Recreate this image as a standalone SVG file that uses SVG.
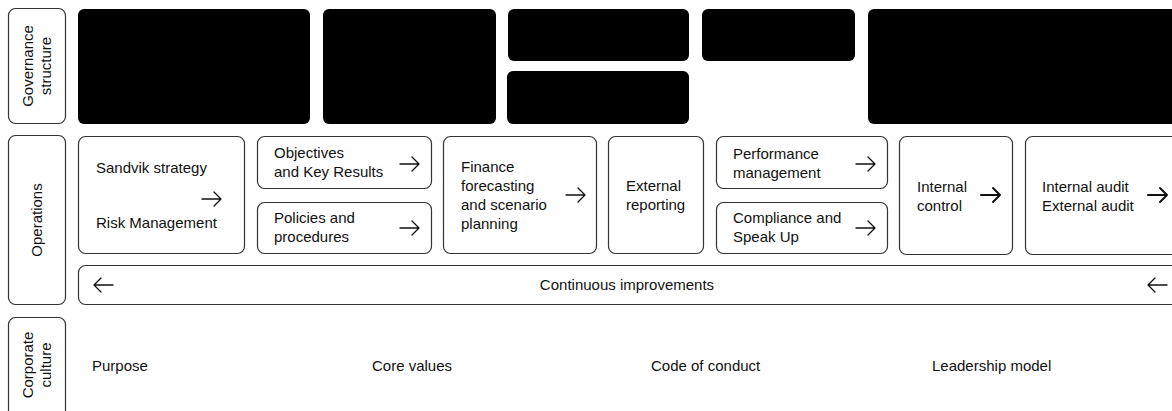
<svg xmlns="http://www.w3.org/2000/svg" width="1172" height="411" viewBox="0 0 1172 411">
<style>
.bg{fill:#ffffff}
.lab{fill:#ffffff;stroke:#333333;stroke-width:1.2}
.box{fill:#ffffff;stroke:#333333;stroke-width:1.2}
.blk{fill:#000000}
text{font-family:"Liberation Sans",Arial,sans-serif;font-size:15px;fill:#111111}
.mid{text-anchor:middle}
.arr{fill:none;stroke:#111111;stroke-width:1.3;stroke-linecap:round;stroke-linejoin:round}
.arrb{fill:none;stroke:#111111;stroke-width:2;stroke-linecap:round;stroke-linejoin:round}
</style>
<rect class="bg" x="0" y="0" width="1172" height="411"/>

<g id="label-governance">
<rect class="lab" x="8.5" y="8.5" width="57" height="115" rx="7"/>
<text class="mid" transform="translate(33 66) rotate(-90)"><tspan x="0" y="0">Governance</tspan><tspan x="0" y="18">structure</tspan></text>
</g>
<g id="label-operations">
<rect class="lab" x="8.5" y="135.5" width="57" height="169" rx="7"/>
<text class="mid" transform="translate(42 220) rotate(-90)">Operations</text>
</g>
<g id="label-culture">
<rect class="lab" x="8.5" y="317.5" width="57" height="110" rx="7"/>
<text class="mid" transform="translate(33 365) rotate(-90)"><tspan x="0" y="0">Corporate</tspan><tspan x="0" y="18">culture</tspan></text>
</g>

<g id="gov-1"><rect class="blk" x="78" y="9" width="232" height="115" rx="6"/></g>
<g id="gov-2"><rect class="blk" x="323" y="9" width="173" height="115" rx="6"/></g>
<g id="gov-3a"><rect class="blk" x="508" y="9" width="181" height="52" rx="6"/></g>
<g id="gov-3b"><rect class="blk" x="507" y="71" width="182" height="53" rx="6"/></g>
<g id="gov-4"><rect class="blk" x="702" y="9" width="153" height="52" rx="6"/></g>
<g id="gov-5"><rect class="blk" x="868" y="9" width="330" height="115" rx="6"/></g>

<g id="op-strategy">
<rect class="box" x="78.5" y="136.5" width="166" height="117" rx="7"/>
<text x="96" y="173">Sandvik strategy</text>
<text x="96" y="228">Risk Management</text>
</g>
<g id="op-okr">
<rect class="box" x="257.5" y="136.5" width="174" height="52" rx="7"/>
<text x="274" y="158">Objectives</text>
<text x="274" y="177">and Key Results</text>
</g>
<g id="op-policies">
<rect class="box" x="257.5" y="202.5" width="174" height="51" rx="7"/>
<text x="274" y="223">Policies and</text>
<text x="274" y="242">procedures</text>
</g>
<g id="op-finance">
<rect class="box" x="443.5" y="136.5" width="153" height="117" rx="7"/>
<text x="461" y="172">Finance</text>
<text x="461" y="191">forecasting</text>
<text x="461" y="210">and scenario</text>
<text x="461" y="229">planning</text>
</g>
<g id="op-external">
<rect class="box" x="608.5" y="136.5" width="95" height="117" rx="7"/>
<text x="626" y="191">External</text>
<text x="626" y="210">reporting</text>
</g>
<g id="op-performance">
<rect class="box" x="716.5" y="136.5" width="171" height="52" rx="7"/>
<text x="733" y="159">Performance</text>
<text x="733" y="178">management</text>
</g>
<g id="op-compliance">
<rect class="box" x="716.5" y="202.5" width="171" height="51" rx="7"/>
<text x="733" y="223">Compliance and</text>
<text x="733" y="242">Speak Up</text>
</g>
<g id="op-internal-control">
<rect class="box" x="899.5" y="136.5" width="113" height="118" rx="7"/>
<text x="917" y="192">Internal</text>
<text x="917" y="211">control</text>
</g>
<g id="op-audit">
<rect class="box" x="1025.5" y="136.5" width="170" height="118" rx="7"/>
<text x="1042" y="192">Internal audit</text>
<text x="1042" y="211">External audit</text>
</g>
<g id="op-continuous">
<rect class="box" x="78.5" y="265.5" width="1120" height="39" rx="7"/>
<text class="mid" x="627" y="290">Continuous improvements</text>
</g>

<g id="connectors">
<path class="arr" d="M202 199H221M214 192L221 199L214 206"/>
<path class="arr" d="M400 164H419M412 157L419 164L412 171"/>
<path class="arr" d="M400 228H419M412 221L419 228L412 235"/>
<path class="arr" d="M566 195H585M578 188L585 195L578 202"/>
<path class="arr" d="M856 164H875M868 157L875 164L868 171"/>
<path class="arr" d="M856 228H875M868 221L875 228L868 235"/>
<path class="arrb" d="M981 195H1000M993 188L1000 195L993 202"/>
<path class="arrb" d="M1148 195H1167M1160 188L1167 195L1160 202"/>
<path class="arr" d="M113 285H94M101 278L94 285L101 292"/>
<path class="arr" d="M1167 285H1148M1155 278L1148 285L1155 292"/>
</g>

<g id="culture">
<text x="92" y="371">Purpose</text>
<text x="372" y="371">Core values</text>
<text x="651" y="371">Code of conduct</text>
<text x="932" y="371">Leadership model</text>
</g>
</svg>
